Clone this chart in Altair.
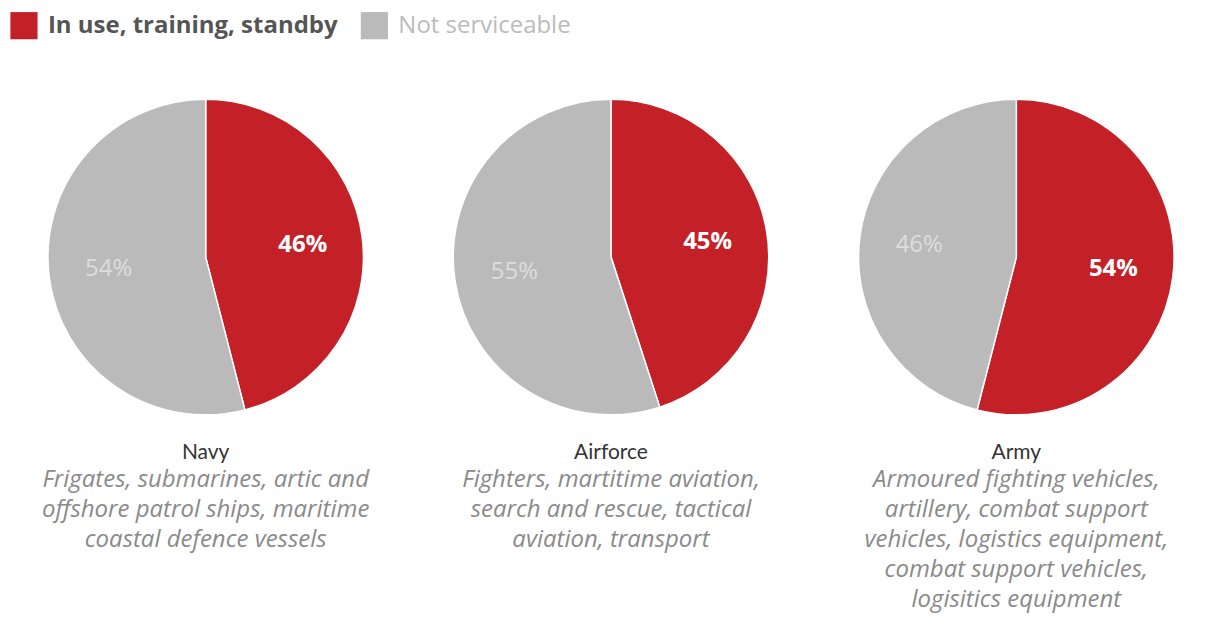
import altair as alt
import pandas as pd

branches = ["Navy", "Airforce", "Army"]
in_use = [46, 45, 54]
not_serviceable = [54, 55, 46]
statuses = ["In use, training, standby", "Not serviceable"]
descriptions = [
    ["Frigates, submarines, artic and", "offshore patrol ships, maritime", "coastal defence vessels"],
    ["Fighters, martitime aviation,", "search and rescue, tactical", "aviation, transport"],
    ["Armoured fighting vehicles,", "artillery, combat support", "vehicles, logistics equipment,",
     "combat support vehicles,", "logisitics equipment"],
]

rows = []
for b, a, n in zip(branches, in_use, not_serviceable):
    rows.append({"branch": b, "status": statuses[0], "value": a, "order": 0,
                 "lab_in": f"{a}%", "lab_out": ""})
    rows.append({"branch": b, "status": statuses[1], "value": n, "order": 1,
                 "lab_in": "", "lab_out": f"{n}%"})
df = pd.DataFrame(rows)

FONT = "Open Sans"
TFONT = "Lato"
RED = "#c42027"
GRAY = "#bababa"
R = 158

def panel(i):
    b = branches[i]
    base = alt.Chart(df).transform_filter(alt.datum.branch == b).encode(
        theta=alt.Theta("value:Q", stack=True),
        order=alt.Order("order:O"),
    )
    arcs = base.mark_arc(outerRadius=R, stroke="white", strokeWidth=1.5).encode(
        color=alt.Color(
            "status:N",
            scale=alt.Scale(domain=statuses, range=[RED, GRAY]),
            legend=alt.Legend(
                title=None, orient="top", direction="horizontal",
                symbolType="square", symbolSize=740, symbolStrokeWidth=0,
                labelFontSize=24, labelFont=FONT,
                labelFontWeight=alt.ExprRef(expr="datum.label == 'Not serviceable' ? 'normal' : 'bold'"),
                labelColor=alt.ExprRef(expr="datum.label == 'Not serviceable' ? '#bbbbbb' : '#555555'"),
                labelLimit=400, labelOffset=10, columnPadding=22, symbolOffset=0,
                offset=57, padding=0,
            ),
        )
    )
    t_in = base.mark_text(radius=98, font=FONT, fontSize=24, fontWeight="bold", color="white").encode(
        text="lab_in:N"
    )
    t_out = base.mark_text(radius=98, font=FONT, fontSize=24, color="#dddddd").encode(
        text="lab_out:N"
    )
    return alt.layer(arcs, t_in, t_out).properties(
        width=392, height=2 * R,
        title=alt.TitleParams(
            text=b, subtitle=descriptions[i], orient="bottom", anchor="middle",
            font=TFONT, fontSize=21, fontWeight="normal", color="#333333",
            subtitleFont=FONT, subtitleFontSize=24, subtitleFontStyle="italic",
            subtitleColor="#8a8a8a", subtitleLineHeight=30, subtitlePadding=5, offset=24,
        ),
    )

chart = alt.hconcat(panel(0), panel(1), panel(2), spacing=14).properties(
    padding={"left": 2, "top": 3, "right": 0, "bottom": 10}
).configure_view(stroke=None)

chart.save("out.html", embed_options={"renderer": "svg", "actions": False})
